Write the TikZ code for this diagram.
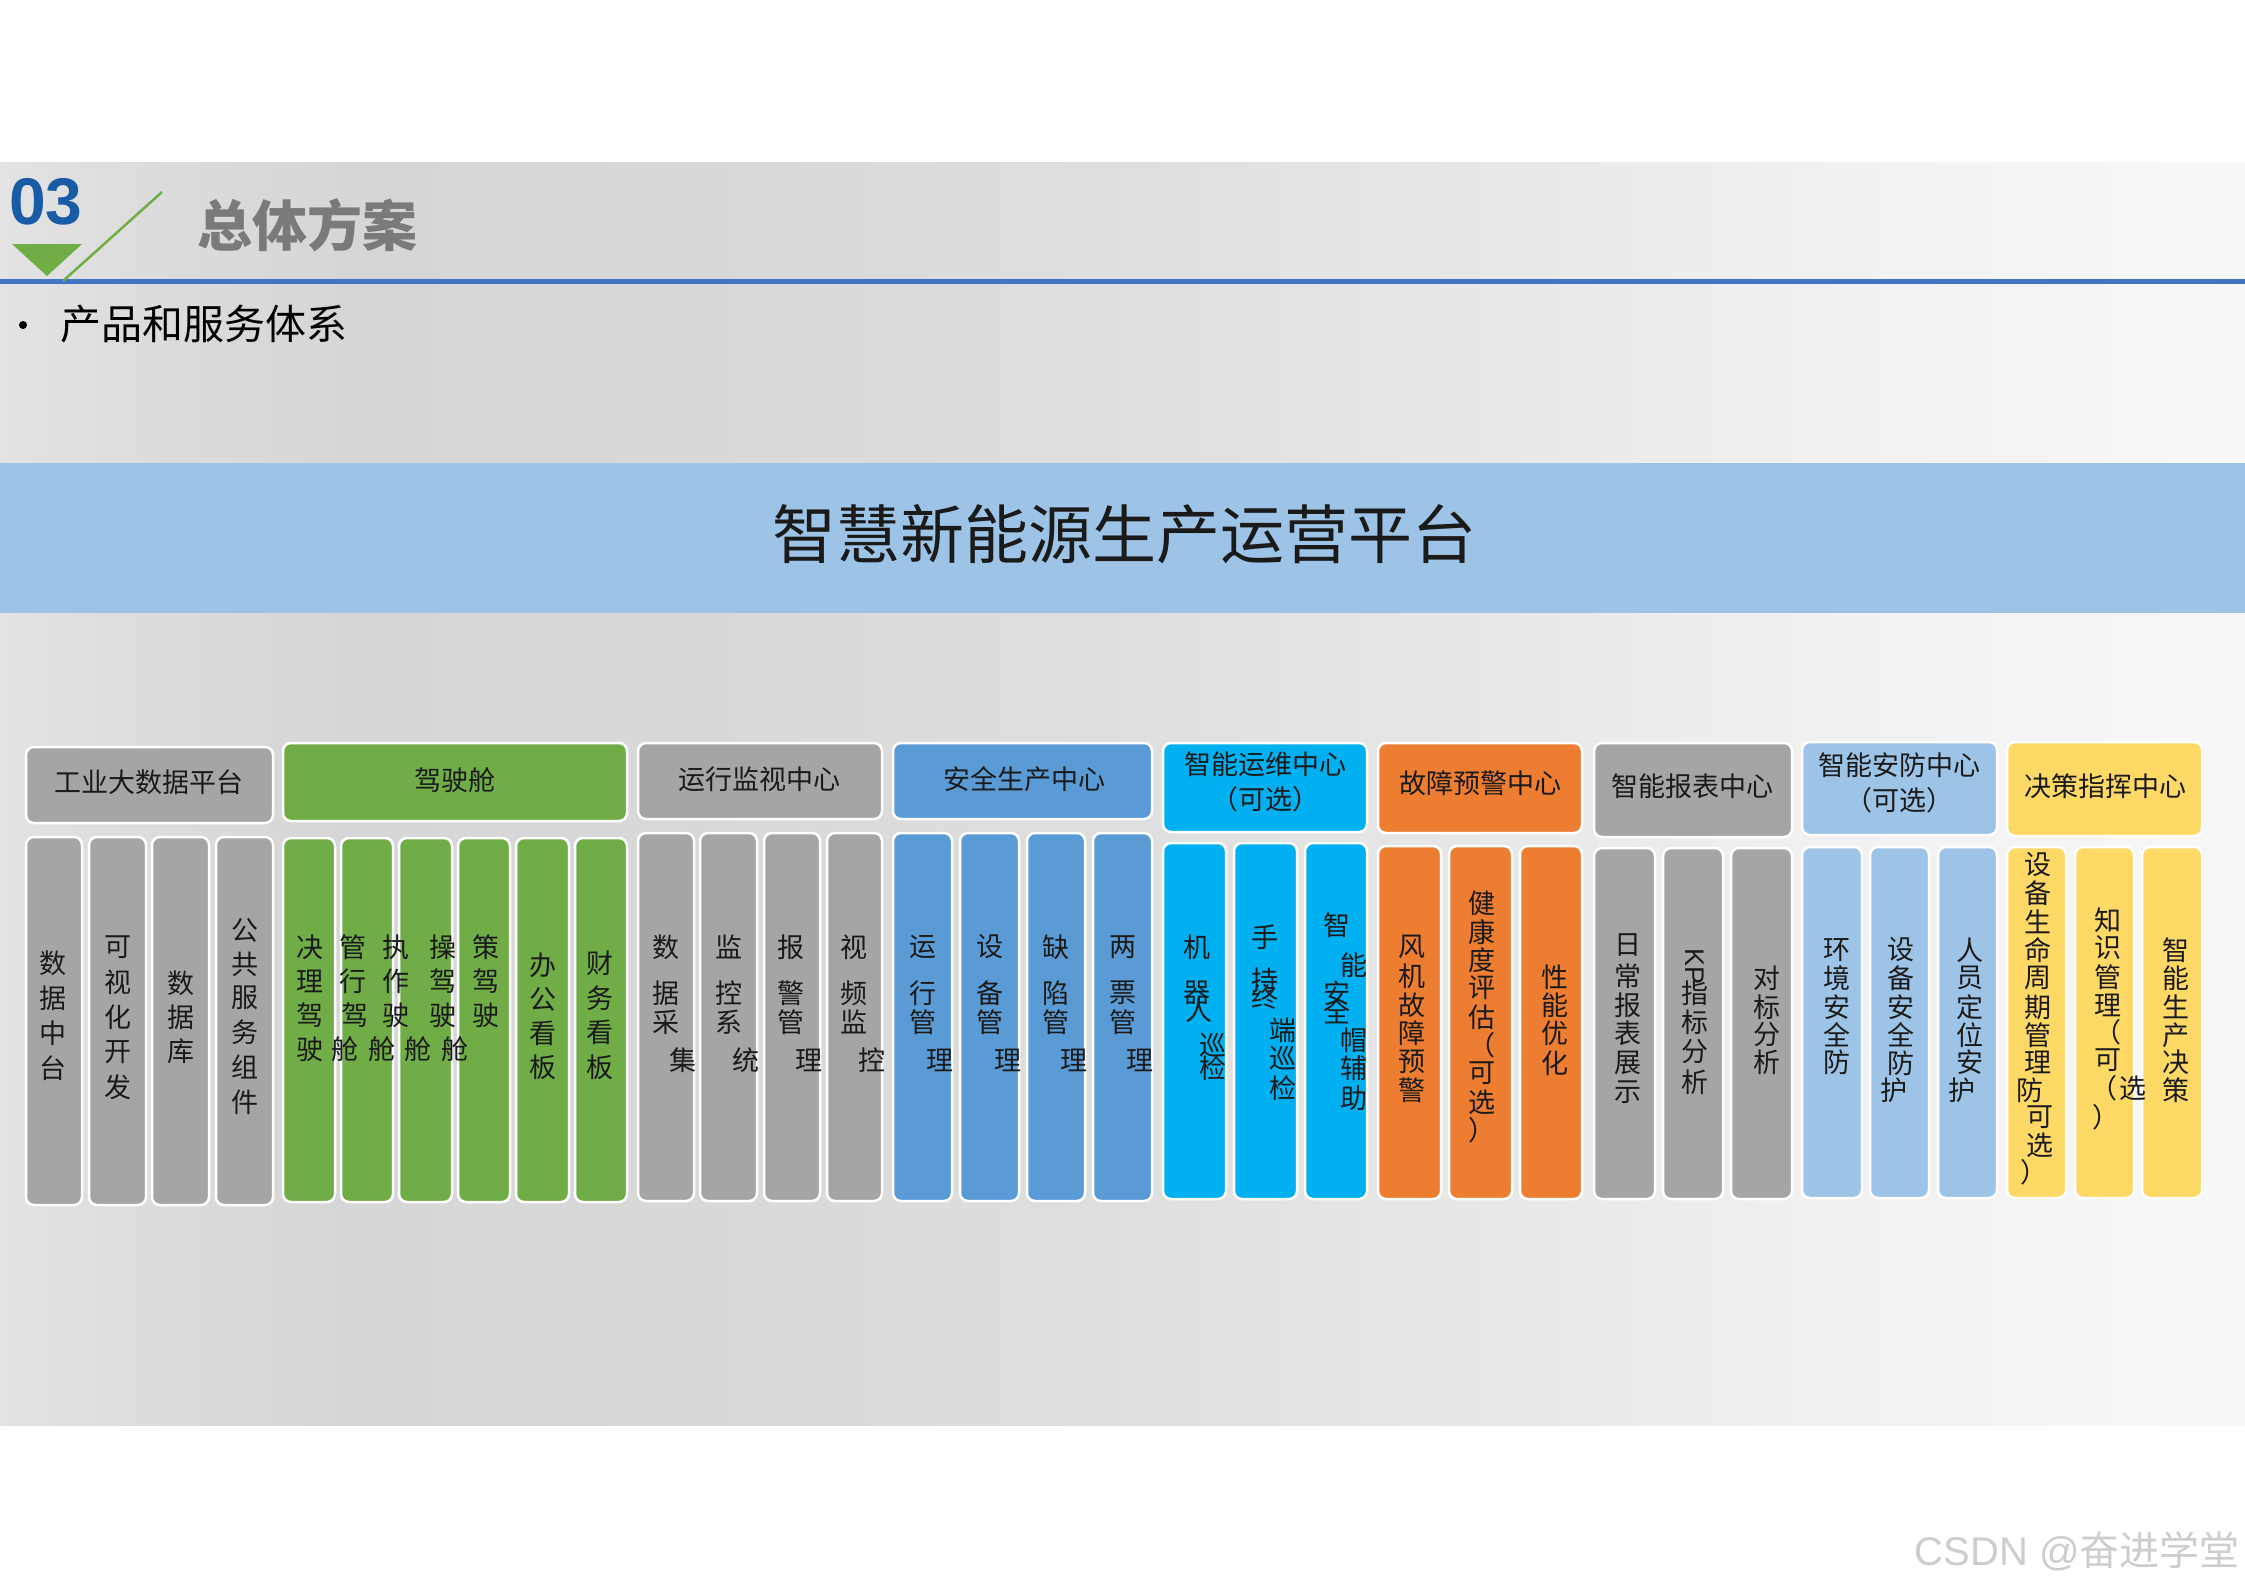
\documentclass[tikz,border=0pt]{standalone}
\usepackage{fontspec}
\setmainfont{Liberation Sans}
\newfontfamily\cjk{Noto Sans CJK SC}
\usetikzlibrary{fit}
\definecolor{cgray}{HTML}{A5A5A5}
\definecolor{cgreen}{HTML}{70AD47}
\definecolor{cblue}{HTML}{5B9BD5}
\definecolor{ccyan}{HTML}{00B0F0}
\definecolor{corange}{HTML}{ED7D31}
\definecolor{clblue}{HTML}{9DC3E6}
\definecolor{cyellow}{HTML}{FFD966}
\definecolor{banner}{HTML}{9DC3E6}
\definecolor{rule}{HTML}{4472C4}
\definecolor{num}{HTML}{1A5BA6}
\definecolor{ttlgray}{HTML}{7A7A7A}
\definecolor{txt}{HTML}{1A1A1A}
\definecolor{wm}{HTML}{CDCDCD}
\definecolor{bg0}{HTML}{E3E3E3}
\definecolor{bg1}{HTML}{DCDCDC}
\definecolor{bg2}{HTML}{D6D6D6}
\definecolor{bg3}{HTML}{D8D8D8}
\definecolor{bg4}{HTML}{DEDEDE}
\definecolor{bg5}{HTML}{E8E8E8}
\definecolor{bg6}{HTML}{F1F1F1}
\definecolor{bg7}{HTML}{F8F8F8}
\pgfdeclarehorizontalshading{slidebg}{100bp}{color(0bp)=(bg0); color(25bp)=(bg0); color(28.3bp)=(bg1); color(32.8bp)=(bg2); color(40.6bp)=(bg3); color(49.5bp)=(bg4); color(58.4bp)=(bg5); color(66.2bp)=(bg6); color(75bp)=(bg7); color(100bp)=(bg7)}
\newcommand\bx[6]{\node[box, fill=#6, fit={(#2,#3) (#4,#5)}] (#1) {};}
\newcommand\chs[2]{\foreach \x/\y/\c [count=\i] in {#2} {\node[ch] (#1-\i) at (\x,\y) {\c};}}
\begin{document}
\begin{tikzpicture}[x=1pt,y=-1pt,
  box/.style={draw=white, line width=2.5pt, rounded corners=8pt, inner sep=0pt},
  hd/.style={font=\cjk\fontsize{27}{35}\selectfont, text=txt, align=center, inner sep=0pt},
  ch/.style={font=\cjk\fontsize{27}{27}\selectfont, text=txt, inner sep=0pt}]
\useasboundingbox (0,0) rectangle (2245,1588);
\fill[white] (0,0) rectangle (2245,1588);
\shade[shading=slidebg] (0,162) rectangle (2245,1425);
% header band
\draw[rule, line width=5pt] (0,281.5) -- (2245,281.5);
\fill[cgreen] (12,244) -- (82,244) -- (47,276) -- cycle;
\draw[cgreen, line width=2.5pt] (63,281) -- (162,192);
\node[font=\bfseries\fontsize{66}{66}\selectfont, text=num, inner sep=0pt] (n03) at (46,202) {03};
\node[font=\cjk\bfseries\fontsize{55}{55}\selectfont, text=ttlgray, inner sep=0pt] (sect) at (307,225) {总体方案};
\fill[black] (23,325) circle (4);
\node[font=\cjk\fontsize{41}{41}\selectfont, text=black, inner sep=0pt] (sub) at (204,324) {产品和服务体系};
% banner
\node[fill=banner, inner sep=0pt, fit={(0,463) (2245,613)}] (ban) {};
\node[font=\cjk\fontsize{64}{64}\selectfont, text=txt, inner sep=0pt] (bantxt) at (1124,534) {智慧新能源生产运营平台};
% headers
\bx{h1}{26}{747}{273}{823}{cgray}
\bx{h2}{283}{743}{627}{821}{cgreen}
\bx{h3}{638}{743}{882}{819}{cgray}
\bx{h4}{893}{743}{1152}{819}{cblue}
\bx{h5}{1163}{743}{1367}{832}{ccyan}
\bx{h6}{1378}{743}{1582}{833}{corange}
\bx{h7}{1594}{743}{1792}{837}{cgray}
\bx{h8}{1802}{742}{1997}{835}{clblue}
\bx{h9}{2007}{742}{2202}{836}{cyellow}
\node[hd] (t1) at (149,782) {工业大数据平台};
\node[hd] (t2) at (455,780) {驾驶舱};
\node[hd] (t3) at (759,779) {运行监视中心};
\node[hd] (t4) at (1024,779) {安全生产中心};
\node[hd] (t5) at (1265,782) {智能运维中心\\（可选）};
\node[hd] (t6) at (1480,783) {故障预警中心};
\node[hd] (t7) at (1692,786) {智能报表中心};
\node[hd] (t8) at (1899,783) {智能安防中心\\（可选）};
\node[hd] (t9) at (2105,786) {决策指挥中心};
% columns
\bx{a1}{26}{837}{82}{1205}{cgray}
\bx{a2}{89}{837}{146}{1205}{cgray}
\bx{a3}{152}{837}{209}{1205}{cgray}
\bx{a4}{216}{837}{273}{1205}{cgray}
\bx{b1}{283}{838}{335}{1202}{cgreen}
\bx{b2}{341}{838}{393}{1202}{cgreen}
\bx{b3}{399}{838}{452}{1202}{cgreen}
\bx{b4}{458}{838}{510}{1202}{cgreen}
\bx{b5}{516}{838}{569}{1202}{cgreen}
\bx{b6}{575}{838}{627}{1202}{cgreen}
\bx{c1}{638}{833}{694}{1201}{cgray}
\bx{c2}{700}{833}{757}{1201}{cgray}
\bx{c3}{764}{833}{820}{1201}{cgray}
\bx{c4}{827}{833}{882}{1201}{cgray}
\bx{d1}{893}{833}{952}{1201}{cblue}
\bx{d2}{960}{833}{1019}{1201}{cblue}
\bx{d3}{1027}{833}{1085}{1201}{cblue}
\bx{d4}{1093}{833}{1152}{1201}{cblue}
\bx{e1}{1163}{843}{1226}{1199}{ccyan}
\bx{e2}{1234}{843}{1297}{1199}{ccyan}
\bx{e3}{1305}{843}{1367}{1199}{ccyan}
\bx{f1}{1378}{846}{1441}{1199}{corange}
\bx{f2}{1449}{846}{1512}{1199}{corange}
\bx{f3}{1520}{846}{1582}{1199}{corange}
\bx{g1}{1594}{848}{1655}{1199}{cgray}
\bx{g2}{1663}{848}{1723}{1199}{cgray}
\bx{g3}{1731}{848}{1792}{1199}{cgray}
\bx{k1}{1802}{847}{1862}{1198}{clblue}
\bx{k2}{1870}{847}{1929}{1198}{clblue}
\bx{k3}{1938}{847}{1997}{1198}{clblue}
\bx{m1}{2007}{847}{2066}{1198}{cyellow}
\bx{m2}{2075}{847}{2134}{1198}{cyellow}
\bx{m3}{2142}{847}{2202}{1198}{cyellow}
% column texts
\chs{xa1}{53/963/数,53/998/据,53/1033/中,53/1068/台}
\chs{xa2}{118/947/可,118/982/视,118/1017/化,118/1052/开,118/1087/发}
\chs{xa3}{181/983/数,181/1017/据,181/1051/库}
\chs{xa4}{245/930/公,245/964/共,245/998/服,245/1032/务,245/1067/组,245/1102/件}
\chs{xb1}{310/947/决,353/947/管,396/947/执,443/947/操,486/947/策}
\chs{xb2}{310/981/理,353/981/行,396/981/作,443/981/驾,486/981/驾}
\chs{xb3}{310/1015/驾,355/1015/驾,396/1015/驶,443/1015/驶,486/1015/驶}
\chs{xb4}{310/1049/驶,345/1049/舱,382/1049/舱,418/1049/舱,455/1049/舱}
\chs{xb5}{543/965/办,543/999/公,543/1033/看,543/1067/板}
\chs{xb6}{600/963/财,600/998/务,600/1032/看,600/1067/板}
\chs{xc1}{666/947/数,666/993/据,666/1022/采,683/1060/集}
\chs{xc2}{729/947/监,729/993/控,729/1022/系,746/1060/统}
\chs{xc3}{791/947/报,791/993/警,791/1022/管,809/1060/理}
\chs{xc4}{854/947/视,854/993/频,854/1022/监,872/1060/控}
\chs{xd1}{923/947/运,923/993/行,923/1022/管,940/1060/理}
\chs{xd2}{990/947/设,990/993/备,990/1022/管,1008/1060/理}
\chs{xd3}{1056/947/缺,1056/993/陷,1056/1022/管,1074/1060/理}
\chs{xd4}{1123/947/两,1123/993/票,1123/1022/管,1140/1060/理}
\chs{xe1}{1197/947/机,1197/993/器,1199/1010/人,1213/1045/巡,1213/1068/检}
\chs{xe2}{1265/937/手,1265/980/持,1265/997/终,1283/1030/端,1283/1058/巡,1283/1088/检}
\chs{xe3}{1337/925/智,1354/965/能,1337/993/安,1337/1012/全,1354/1040/帽,1354/1068/辅,1354/1098/助}
\chs{xf1}{1412/947/风,1412/976/机,1412/1005/故,1412/1033/障,1412/1062/预,1412/1090/警}
\chs{xf2}{1482/903/健,1482/932/康,1482/960/度,1482/988/评,1482/1017/估,1482/1045/（,1482/1073/可,1482/1102/选,1482/1130/）}
\chs{xf3}{1555/977/性,1555/1005/能,1555/1033/优,1555/1063/化}
\chs{xg1}{1628/945/日,1628/976/常,1628/1005/报,1628/1033/表,1628/1063/展,1628/1092/示}
\node[font=\fontsize{27}{27}\selectfont, text=txt, inner sep=0pt, rotate=-90] (xg2-0) at (1695,966) {KP};
\chs{xg2}{1695/993/指,1695/1022/标,1695/1052/分,1695/1082/析}
\chs{xg3}{1767/978/对,1767/1007/标,1767/1035/分,1767/1062/析}
\chs{xk1}{1837/950/环,1837/978/境,1837/1007/安,1837/1035/全,1837/1062/防}
\chs{xk2}{1901/950/设,1901/978/备,1901/1007/安,1901/1035/全,1901/1063/防,1894/1090/护}
\chs{xk3}{1970/950/人,1970/978/员,1970/1007/定,1970/1035/位,1970/1062/安,1962/1090/护}
\chs{xm1}{2038/865/设,2038/893/备,2038/922/生,2038/950/命,2038/978/周,2038/1007/期,2038/1035/管,2038/1062/理,2030/1090/防,2040/1117/可,2040/1145/选,2034/1172/）}
\chs{xm2}{2108/920/知,2108/948/识,2108/977/管,2108/1005/理,2108/1032/（,2108/1060/可,2104/1088/（,2133/1088/选,2106/1117/）}
\chs{xm3}{2176/950/智,2176/978/能,2176/1007/生,2176/1035/产,2176/1062/决,2176/1090/策}
% watermark
\node[font=\fontsize{40}{40}\selectfont, text=wm, inner sep=0pt, anchor=east] (wmk) at (2240,1551) {CSDN @{\cjk 奋进学堂}};
\end{tikzpicture}
\end{document}
